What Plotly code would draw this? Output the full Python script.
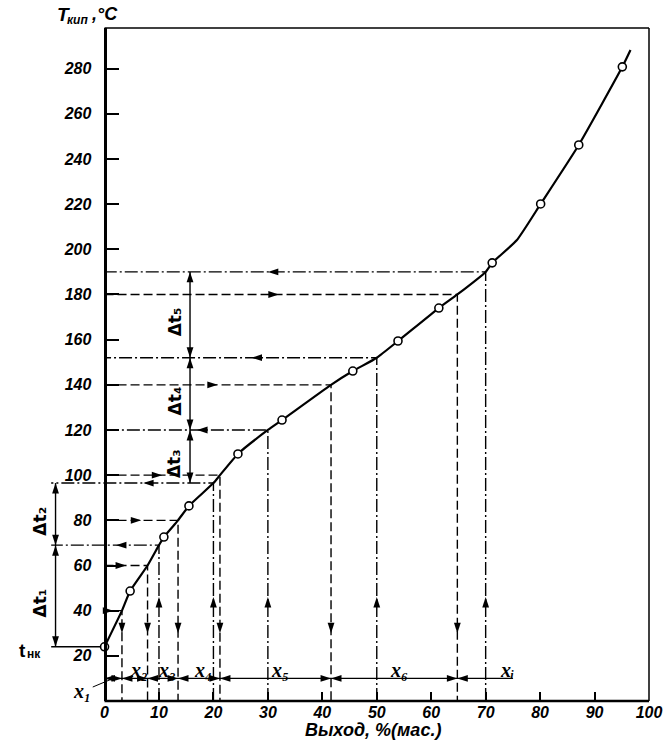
import plotly.graph_objects as go

# ---------------- data ----------------
# distillation curve (yield, % mass  ->  boiling temperature, degC)
curve_yield = [0, 3.2, 4.7, 7.9, 10, 10.9, 13.5, 15.5, 20, 21.2, 24.5, 30, 32.6,
               41.6, 45.6, 50, 53.9, 61.4, 64.8, 70, 71.2, 75.7, 80.1, 87.1, 95.1, 96.6]
curve_temp = [24, 40, 48.7, 60, 69, 72.6, 80, 86.4, 96.5, 100, 109.4, 120, 124.4,
              140, 146.1, 152, 159.4, 174, 180, 190, 194, 204, 220.1, 246.2, 280.8, 288.3]
# experimental points (open circles)
circle_yield = [0, 4.7, 10.9, 15.5, 24.5, 32.6, 45.6, 53.9, 61.4, 71.2, 80.1, 87.1, 95.1]
circle_temp = [24, 48.7, 72.6, 86.4, 109.4, 124.4, 146.1, 159.4, 174, 194, 220.1, 246.2, 280.8]

t_start = 24                                   # t_нк
# temperatures chosen on the T axis and the yields read on the curve
set_temps = [40, 60, 80, 100, 140, 180]
set_temp_yields = [3.2, 7.9, 13.5, 21.2, 41.6, 64.8]
# yields chosen on the x axis and the temperatures read on the curve
set_yields = [10, 20, 30, 50, 70]
set_yield_temps = [69, 96.5, 120, 152, 190]

dt_names = ["Δt₁", "Δt₂", "Δt₃", "Δt₄", "Δt₅"]
x_names = ["x₁", "x₂", "x₃", "x₄", "x₅", "x₆", "xᵢ"]
x_ticks = list(range(0, 101, 10))
y_ticks = list(range(20, 281, 20))

# ---------------- layout constants (style) ----------------
X_MIN, X_MAX = -19.2, 100
Y_MIN, Y_MAX = 0, 298
LEFT_DIM_X = -9          # dimension line for Δt1, Δt2
LEFT_EXT_X = -9.8
RIGHT_DIM_X = 15.7       # dimension line for Δt3..Δt5
BOT_DIM_Y = 10           # dimension line for x1..xi
BOT_DIM_END = 75
DOWN_ARROW_Y = 30
UP_ARROW_Y = 46

FONT = "Liberation Sans"
SERIF = "Liberation Serif"
BLACK = "black"

fig = go.Figure()

def seg_trace(xs, ys, dash="solid", width=1.4):
    fig.add_trace(go.Scatter(x=xs, y=ys, mode="lines",
                             line=dict(color=BLACK, width=width, dash=dash),
                             hoverinfo="skip", showlegend=False))

# --- construction lines from chosen temperatures (→ then ↓)
hx, hy = [], []
for T, xc in zip(set_temps, set_temp_yields):
    hx += [0, xc, xc, None]
    hy += [T, T, 0, None]
seg_trace(hx, hy, dash="9px,4px")

# --- construction lines from chosen yields (↑ then ←)
cx, cy = [], []
for i, (xv, T) in enumerate(zip(set_yields, set_yield_temps)):
    start = LEFT_EXT_X if i < 2 else 0
    cx += [xv, xv, start, None]
    cy += [0, T, T, None]
seg_trace(cx, cy, dash="13px,3px,2px,3px")

# --- t_нк extension and dimension lines
dim_x = [LEFT_EXT_X, 0, None,
         LEFT_DIM_X, LEFT_DIM_X, None,
         RIGHT_DIM_X, RIGHT_DIM_X, None,
         0, BOT_DIM_END]
dim_y = [t_start, t_start, None,
         t_start, set_yield_temps[1], None,
         set_yield_temps[1], set_yield_temps[-1], None,
         BOT_DIM_Y, BOT_DIM_Y]
seg_trace(dim_x, dim_y, width=1.4)

# --- curve and experimental points
fig.add_trace(go.Scatter(x=curve_yield, y=curve_temp, mode="lines",
                         line=dict(color=BLACK, width=2.2, shape="spline", smoothing=0.5),
                         hoverinfo="skip", showlegend=False))
fig.add_trace(go.Scatter(x=circle_yield, y=circle_temp, mode="markers",
                         marker=dict(symbol="circle", size=8, color="white",
                                     line=dict(color=BLACK, width=1.6)),
                         cliponaxis=False, hoverinfo="skip", showlegend=False))

# --- arrowheads
ax_, ay_, ang_ = [], [], []
def arrow(x, y, a):
    ax_.append(x); ay_.append(y); ang_.append(a)

for T, xc in zip(set_temps, set_temp_yields):
    arrow(min(xc / 2, 32), T, 90)          # → along horizontal
    arrow(xc, DOWN_ARROW_Y, 180)           # ↓ along vertical
for i, (xv, T) in enumerate(zip(set_yields, set_yield_temps)):
    start = LEFT_EXT_X if i < 2 else 0
    arrow(min((start + xv) / 2 + 2, 30), T, 270)   # ← along horizontal
    arrow(xv, UP_ARROW_Y, 0)                       # ↑ along vertical

left_bounds = [t_start] + set_yield_temps[:2]
right_bounds = set_yield_temps[1:]
for a, b in zip(left_bounds[:-1], left_bounds[1:]):
    arrow(LEFT_DIM_X, a, 180); arrow(LEFT_DIM_X, b, 0)
for a, b in zip(right_bounds[:-1], right_bounds[1:]):
    arrow(RIGHT_DIM_X, a, 180); arrow(RIGHT_DIM_X, b, 0)
x_bounds = [0] + set_temp_yields
for a, b in zip(x_bounds[:-1], x_bounds[1:]):
    arrow(a, BOT_DIM_Y, 270); arrow(b, BOT_DIM_Y, 90)
arrow(x_bounds[-1], BOT_DIM_Y, 270)

fig.add_trace(go.Scatter(x=ax_, y=ay_, mode="markers",
                         marker=dict(symbol="arrow", size=11, angle=ang_, color=BLACK,
                                     line=dict(width=0)),
                         cliponaxis=False, hoverinfo="skip", showlegend=False))

# ---------------- texts ----------------
ann = []
def txt(x, y, s, size=15, angle=0, italic=False, bold=True, xref="x", yref="y",
        xanchor="center", yanchor="middle", family=FONT, xshift=0, yshift=0):
    ann.append(dict(x=x, y=y, xref=xref, yref=yref, text=s, showarrow=False,
                    textangle=angle, xanchor=xanchor, yanchor=yanchor,
                    xshift=xshift, yshift=yshift,
                    font=dict(family=family, size=size, color=BLACK,
                              weight="bold" if bold else "normal",
                              style="italic" if italic else "normal")))

# Δt labels (rotated)
dt_bounds = [t_start] + set_yield_temps
for i, name in enumerate(dt_names):
    xpos = LEFT_DIM_X - 2.9 if i < 2 else RIGHT_DIM_X - 2.8
    txt(xpos, (dt_bounds[i] + dt_bounds[i + 1]) / 2 - 3, name, size=17, angle=-90,
        family="DejaVu Sans")

# t_нк  (main letter + lowered small part)
txt(X_MIN, t_start - 1.5, "t", size=19, xanchor="left", xshift=17)
txt(X_MIN, t_start - 1.5, "нк", size=12, xanchor="left", xshift=25, yshift=-4)

# x-interval labels
for i, name in enumerate(x_names[1:], start=1):
    a = x_bounds[i]
    b = x_bounds[i + 1] if i + 1 < len(x_bounds) else BOT_DIM_END
    xpos = (a + b) / 2 + 0.8 if i + 1 < len(x_bounds) else b - 1
    txt(xpos, BOT_DIM_Y, name, size=20, italic=True, family=SERIF,
        yanchor="bottom", yshift=-5)
# x1 label with leader line
ann.append(dict(x=(x_bounds[0] + x_bounds[1]) / 2, y=BOT_DIM_Y, xref="x", yref="y",
                text=x_names[0], showarrow=True, arrowhead=0, arrowwidth=1,
                arrowcolor=BLACK, ax=-31, ay=13, standoff=0,
                font=dict(family=SERIF, size=20, color=BLACK,
                          weight="bold", style="italic")))

# axis titles
txt(0, 1.02, "T", size=19, italic=True, yref="paper", xanchor="left", xshift=-50)
txt(0, 1.02, "кип", size=12, italic=True, yref="paper", xanchor="left", xshift=-40, yshift=-5)
txt(0, 1.02, ",°C", size=18, italic=True, yref="paper", xanchor="left", xshift=-16, yshift=1)
txt(49.3, -0.043, "Выход, %(мас.)", size=18, italic=True, yref="paper")

fig.update_layout(
    width=670, height=746,
    margin=dict(l=0, r=20.5, t=28, b=45),
    paper_bgcolor="white", plot_bgcolor="white",
    showlegend=False, hovermode=False,
    annotations=ann,
    xaxis=dict(range=[X_MIN, X_MAX], tickvals=x_ticks, ticktext=[str(v) for v in x_ticks],
               ticks="inside", ticklen=9, tickwidth=1.6, tickcolor=BLACK,
               showline=False, showgrid=False, zeroline=False,
               tickfont=dict(family=FONT, size=16, color=BLACK, weight="bold", style="italic")),
    yaxis=dict(range=[Y_MIN, Y_MAX], anchor="free",
               position=(0 - X_MIN) / (X_MAX - X_MIN),
               tickvals=y_ticks, ticktext=[str(v) for v in y_ticks],
               ticks="inside", ticklen=12, tickwidth=1.6, tickcolor=BLACK,
               showline=True, linewidth=3, linecolor=BLACK,
               showgrid=False, zeroline=False, ticklabelstandoff=9,
               tickfont=dict(family=FONT, size=16, color=BLACK, weight="bold", style="italic")),
    shapes=[
        dict(type="line", xref="x", yref="paper", x0=0, x1=X_MAX, y0=0, y1=0,
             line=dict(color=BLACK, width=2.5)),
        dict(type="line", xref="x", yref="paper", x0=0, x1=X_MAX, y0=1, y1=1,
             line=dict(color=BLACK, width=1.5)),
        dict(type="line", xref="paper", yref="paper", x0=1, x1=1, y0=0, y1=1,
             line=dict(color=BLACK, width=1.5)),
    ],
)

fig.write_html("out.html", config={"displayModeBar": False},
               post_script="document.body.style.margin='0px';")
